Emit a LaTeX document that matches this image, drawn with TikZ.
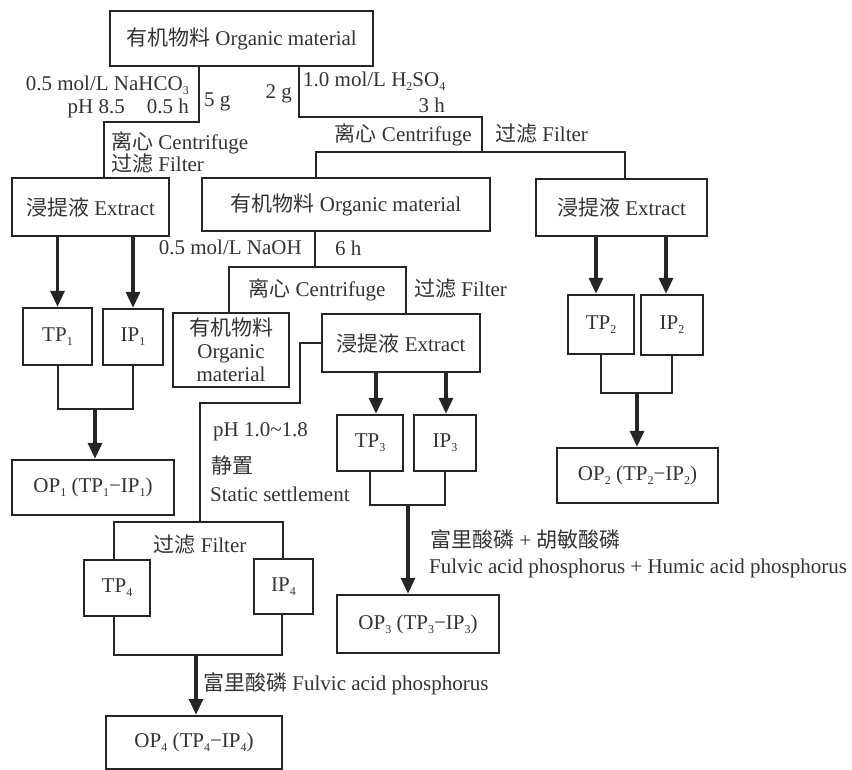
\documentclass[tikz,border=0pt]{standalone}
\usepackage{fontspec}
\setmainfont{Liberation Serif}
\newfontfamily\cjkfont{Noto Sans CJK SC}
\usetikzlibrary{arrows.meta}
\newcommand{\zhtext}[1]{{\cjkfont #1}}
\newcommand{\lowsub}[1]{\raisebox{-4pt}{\fontsize{12}{12}\selectfont #1}}
\definecolor{ink}{HTML}{252525}
\definecolor{txt}{HTML}{333333}
\begin{document}
\begin{tikzpicture}[x=1pt,y=-1pt,
  every node/.style={font=\fontsize{21}{23}\selectfont},
  box/.style={draw=ink,line width=2.4pt,rectangle,inner sep=0pt,align=center,text=txt},
  conn/.style={draw=ink,line width=2pt},
  arr/.style={draw=ink,line width=3.2pt,-{Triangle[width=14pt,length=16pt]}},
  lbl/.style={inner sep=0pt,text=txt}]
\fill[white] (0,0) rectangle (852,770);
\useasboundingbox (0,0) rectangle (852,770);

% boxes
\node[box,minimum width=263pt,minimum height=55pt] (om1) at (241.5,38.5) {\zhtext{有机物料} Organic material};
\node[box,minimum width=157pt,minimum height=58pt] (ex1) at (90.5,207) {\zhtext{浸提液} Extract};
\node[box,minimum width=288pt,minimum height=53pt] (om2) at (346,204.5) {\zhtext{有机物料} Organic material};
\node[box,minimum width=171pt,minimum height=57pt] (ex2) at (621.5,207.5) {\zhtext{浸提液} Extract};
\node[box,minimum width=69pt,minimum height=57pt] (tp1) at (57.5,336.5) {TP\lowsub{1}};
\node[box,minimum width=60pt,minimum height=56pt] (ip1) at (133,337) {IP\lowsub{1}};
\node[box,minimum width=116pt,minimum height=74pt] (om3) at (231,350) {\zhtext{有机物料}\\Organic\\material};
\node[box,minimum width=158pt,minimum height=58pt] (ex3) at (401,343) {\zhtext{浸提液} Extract};
\node[box,minimum width=66pt,minimum height=59pt] (tp2) at (601,324.5) {TP\lowsub{2}};
\node[box,minimum width=62pt,minimum height=60pt] (ip2) at (672,325) {IP\lowsub{2}};
\node[box,minimum width=162pt,minimum height=55pt] (op1) at (93,487.5) {OP\lowsub{1} (TP\lowsub{1}−IP\lowsub{1})};
\node[box,minimum width=66pt,minimum height=56pt] (tp3) at (370,443) {TP\lowsub{3}};
\node[box,minimum width=62pt,minimum height=56pt] (ip3) at (445,443) {IP\lowsub{3}};
\node[box,minimum width=161pt,minimum height=55pt] (op2) at (637.5,475.5) {OP\lowsub{2} (TP\lowsub{2}−IP\lowsub{2})};
\node[box,minimum width=66pt,minimum height=56pt] (tp4) at (117,588) {TP\lowsub{4}};
\node[box,minimum width=59pt,minimum height=55pt] (ip4) at (283.5,586.5) {IP\lowsub{4}};
\node[box,minimum width=162pt,minimum height=58pt] (op3) at (418,624) {OP\lowsub{3} (TP\lowsub{3}−IP\lowsub{3})};
\node[box,minimum width=176pt,minimum height=53pt] (op4) at (194,742.5) {OP\lowsub{4} (TP\lowsub{4}−IP\lowsub{4})};

% coordinates for bends
\coordinate (a1) at (199,122); \coordinate (a2) at (104,122);
\coordinate (b1) at (299,117); \coordinate (b2) at (482,117); \coordinate (b3) at (482,152);
\coordinate (b4) at (316,152); \coordinate (b5) at (625,152);
\coordinate (c1) at (315,267); \coordinate (c2) at (229,267); \coordinate (c3) at (406,267);
\coordinate (d0) at (300,403); \coordinate (d1) at (200,403);
\coordinate (d2) at (200,522); \coordinate (d3) at (114,522); \coordinate (d4) at (283,522);
\coordinate (e1) at (114,655); \coordinate (e2) at (282,655); \coordinate (e3) at (196,655);
\coordinate (g1) at (95,409);
\coordinate (h1) at (596,0); \coordinate (h2) at (666,0); \coordinate (h3) at (637,393);
\coordinate (k1) at (376,0); \coordinate (k2) at (446,0); \coordinate (k3) at (408,505);

% connectors
\draw[conn] (om1.south -| a1) -- (a1) -- (a2) -- (a2 |- ex1.north);
\draw[conn] (om1.south -| b1) -- (b1) -- (b2) -- (b3);
\draw[conn] (b4 |- om2.north) -- (b4) -- (b5) -- (b5 |- ex2.north);
\draw[conn] (om2.south -| c1) -- (c1);
\draw[conn] (c2 |- om3.north) -- (c2) -- (c3) -- (c3 |- ex3.north);
\draw[conn] (ex3.west) -- (ex3.west -| d0) -- (d0) -- (d1) -- (d2);
\draw[conn] (d3 |- tp4.north) -- (d3) -- (d4) -- (d4 |- ip4.north);
\draw[conn] (tp4.south -| e1) -- (e1) -- (e2) -- (ip4.south -| e2);
\draw[arr] (e3) -- (e3 |- op4.north);

\draw[arr] (ex1.south -| tp1.north) -- (tp1.north);
\draw[arr] (ex1.south -| ip1.north) -- (ip1.north);
\draw[conn] (tp1.south) -- (tp1.south |- g1) -- (ip1.south |- g1) -- (ip1.south);
\draw[arr] (g1) -- (g1 |- op1.north);

\draw[arr] (ex2.south -| h1) -- (tp2.north -| h1);
\draw[arr] (ex2.south -| h2) -- (ip2.north -| h2);
\draw[conn] (tp2.south) -- (tp2.south |- h3) -- (ip2.south |- h3) -- (ip2.south);
\draw[arr] (h3) -- (h3 |- op2.north);

\draw[arr] (ex3.south -| k1) -- (tp3.north -| k1);
\draw[arr] (ex3.south -| k2) -- (ip3.north -| k2);
\draw[conn] (tp3.south) -- (tp3.south |- k3) -- (ip3.south |- k3) -- (ip3.south);
\draw[arr] (k3) -- (k3 |- op3.north);

% labels
\node[lbl,anchor=base east] (l1) at (189,91) {0.5 mol/L NaHCO\lowsub{3}};
\node[lbl,anchor=base east] (l2) at (189,114) {pH 8.5\hspace{22pt}0.5 h};
\node[lbl,anchor=base west] (l3) at (204,107) {5 g};
\node[lbl,anchor=base east] (l4) at (292,99) {2 g};
\node[lbl,anchor=base west] (l5) at (303,87) {1.0 mol/L H\lowsub{2}SO\lowsub{4}};
\node[lbl,anchor=base east] (l6) at (445,113) {3 h};
\node[lbl,anchor=base east] (l7) at (472,142) {\zhtext{离心} Centrifuge};
\node[lbl,anchor=base west] (l8) at (495,142) {\zhtext{过滤} Filter};
\node[lbl,anchor=base west] (l9) at (111,150) {\zhtext{离心} Centrifuge};
\node[lbl,anchor=base west] (l10) at (111,172) {\zhtext{过滤} Filter};
\node[lbl,anchor=base east] (l11) at (302,255) {0.5 mol/L NaOH};
\node[lbl,anchor=base west] (l12) at (335,256) {6 h};
\node[lbl,anchor=base] (l13) at (317,297) {\zhtext{离心} Centrifuge};
\node[lbl,anchor=base west] (l14) at (414,297) {\zhtext{过滤} Filter};
\node[lbl,anchor=base west] (l15) at (213,436) {pH 1.0\textasciitilde 1.8};
\node[lbl,anchor=base west] (l16) at (211,473) {\zhtext{静置}};
\node[lbl,anchor=base west] (l17) at (210,501) {Static settlement};
\node[lbl,anchor=base] (l18) at (200,552) {\zhtext{过滤} Filter};
\node[lbl,anchor=base west] (l19) at (203,690) {\zhtext{富里酸磷} Fulvic acid phosphorus};
\node[lbl,anchor=base west] (l20) at (430,547) {\zhtext{富里酸磷} + \zhtext{胡敏酸磷}};
\node[lbl,anchor=base west] (l21) at (429,573) {Fulvic acid phosphorus + Humic acid phosphorus};
\end{tikzpicture}
\end{document}
